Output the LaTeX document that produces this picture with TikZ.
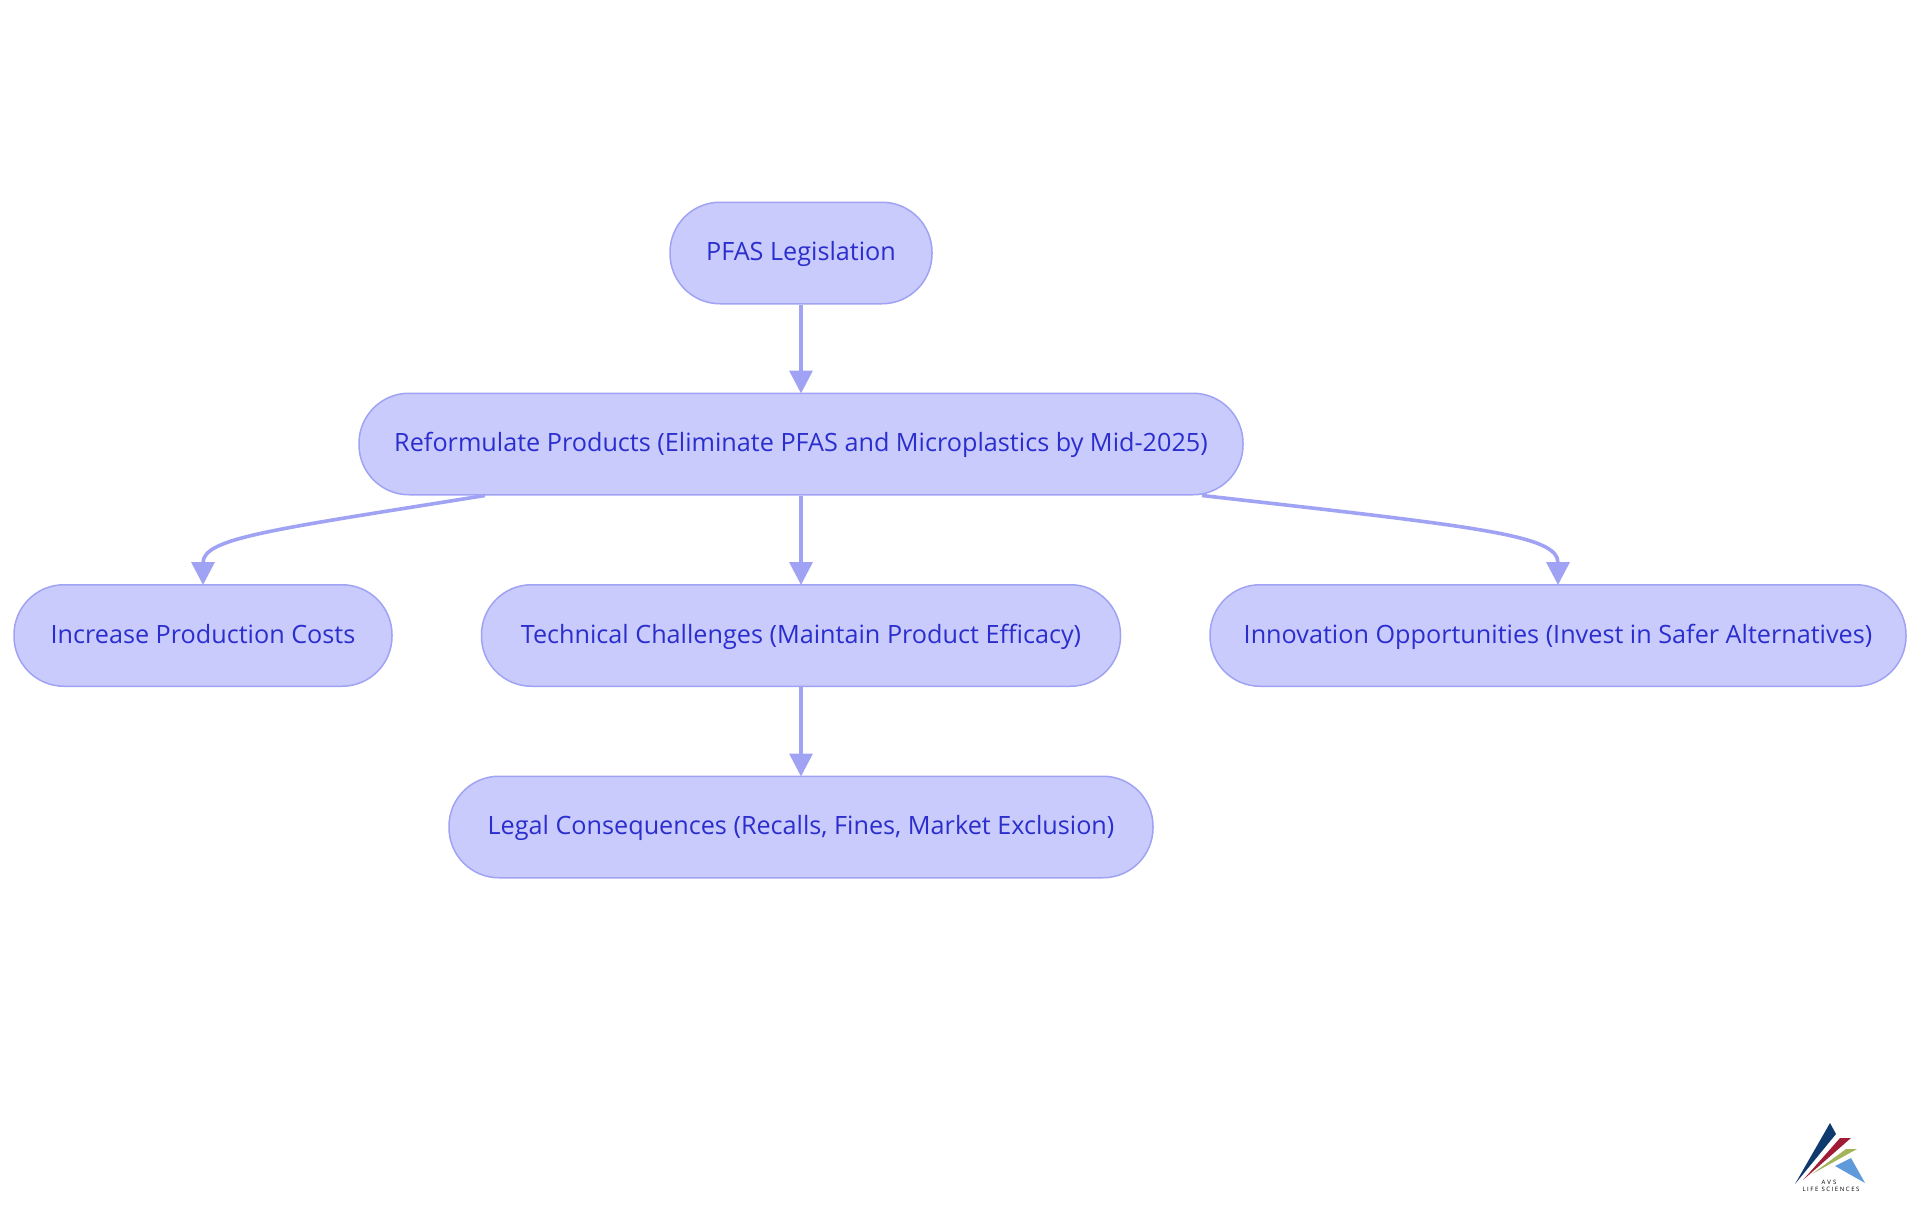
\documentclass[tikz,border=0pt]{standalone}
\usepackage{fontspec}
\setmainfont{Open Sans}
\usepackage{tikz}
\usetikzlibrary{arrows.meta}
\definecolor{boxfill}{HTML}{C9CBFD}
\definecolor{boxline}{HTML}{A0A3F3}
\definecolor{boxtext}{HTML}{2B2ECC}
\definecolor{logonavy}{HTML}{0F3A6E}
\definecolor{logored}{HTML}{A01C34}
\definecolor{logogreen}{HTML}{A3B45C}
\definecolor{logoblue}{HTML}{5F9BDB}
\tikzset{pill/.style={draw=boxline,fill=boxfill,text=boxtext,line width=1.5pt,rounded corners=50pt,minimum height=101.5pt,inner sep=0pt,text height=19pt,text depth=4pt,font=\fontsize{25.2}{28}\selectfont},
link/.style={draw=boxline,line width=3.6pt,shorten >=-1pt,-{Triangle[length=23pt,width=23pt]}},
logotext/.style={font=\fontsize{6}{7}\selectfont,inner sep=0pt}}
\begin{document}
\begin{tikzpicture}[x=1pt,y=-1pt]
\useasboundingbox (0,0) rectangle (1920,1215);
\node[pill,minimum width=262pt] (pfas) at (801,253){PFAS Legislation};
\node[pill,minimum width=884pt] (reform) at (801,444){Reformulate Products (Eliminate PFAS and Microplastics by Mid-2025)};
\node[pill,minimum width=378pt] (costs) at (203,635.5){Increase Production Costs};
\node[pill,minimum width=639pt] (tech) at (801,635.5){Technical Challenges (Maintain Product Efficacy)};
\node[pill,minimum width=696pt] (innov) at (1558,635.5){Innovation Opportunities (Invest in Safer Alternatives)};
\node[pill,minimum width=704pt] (legal) at (801,827){Legal Consequences (Recalls, Fines, Market Exclusion)};
\draw[link] (pfas)--(reform);
\draw[link] (reform)--(tech);
\draw[link] (tech)--(legal);
\draw[link] ([xshift=-316pt]reform.south) .. controls (270,530) and (203,538) .. (costs.north);
\draw[link] ([xshift=401pt]reform.south) .. controls (1480,527) and (1558,535) .. (innov.north);
% logo
\fill[logonavy] (1795,1184)--(1830,1123)--(1836,1134)--cycle;
\fill[logored] (1803,1180)--(1840,1138)--(1851,1138)--cycle;
\fill[logogreen] (1812,1174)--(1846,1149)--(1857,1149)--cycle;
\fill[logoblue] (1835,1166)--(1851,1158)--(1865,1183)--cycle;
\node[logotext] (avs) at (1829,1182){A\,\,V\,\,S};
\node[logotext] (life) at (1831,1189){L I F E\ \ S C I E N C E S};
\end{tikzpicture}
\end{document}
